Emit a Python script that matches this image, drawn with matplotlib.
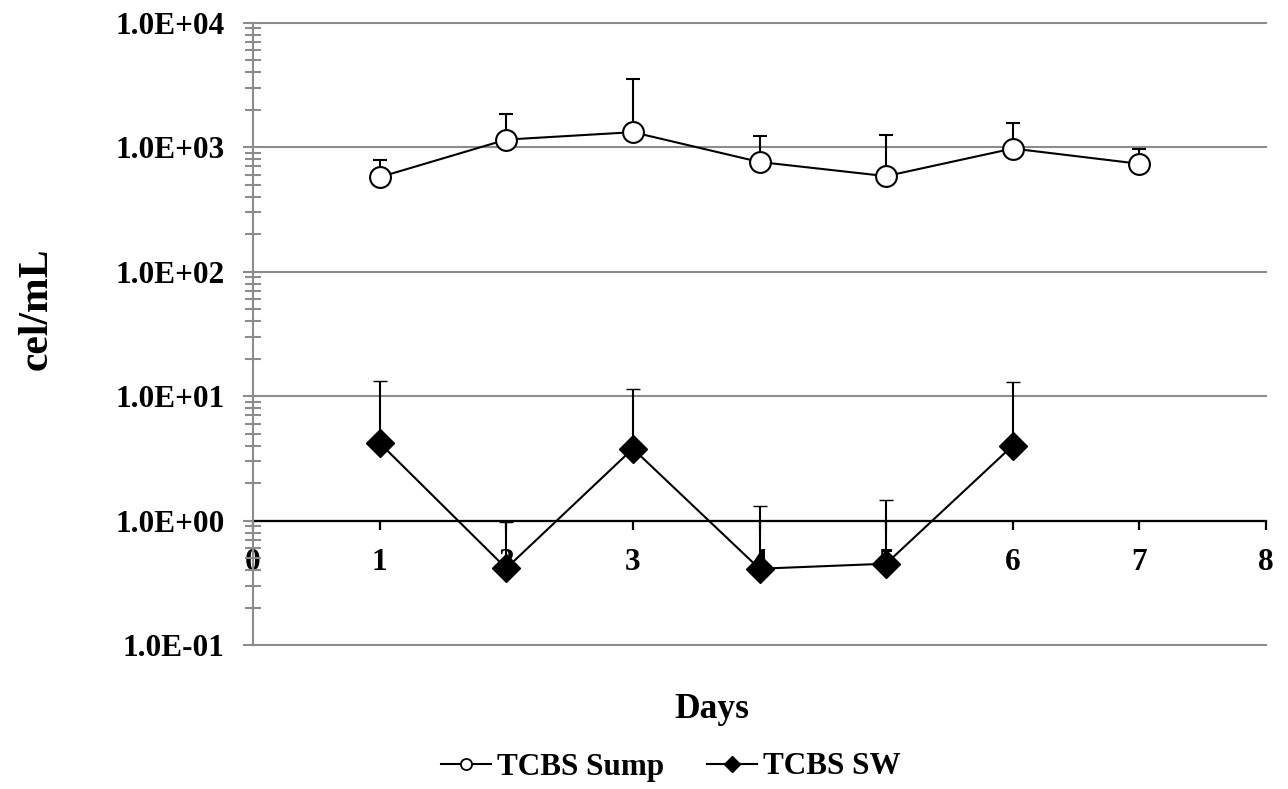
import matplotlib
matplotlib.use("Agg")
import matplotlib.pyplot as plt
from matplotlib.ticker import FixedLocator, LogLocator, NullFormatter
from matplotlib.lines import Line2D
import numpy as np

plt.rcParams['font.family'] = ['Liberation Serif', 'DejaVu Serif']
plt.rcParams['font.weight'] = 'bold'

# ---- data ----
days_sump = [1, 2, 3, 4, 5, 6, 7]
sump_mean = [574, 1150, 1320, 760, 585, 975, 735]
sump_upper = [785, 1830, 3540, 1230, 1245, 1563, 970]

days_sw = [1, 2, 3, 4, 5, 6]
sw_mean = [4.2, 0.413, 3.78, 0.41, 0.45, 4.0]
sw_upper = [13.1, 0.97, 11.4, 1.30, 1.45, 13.0]

y_ticks = [0.1, 1, 10, 100, 1000, 10000]
y_ticklabels = ["1.0E-01", "1.0E+00", "1.0E+01", "1.0E+02", "1.0E+03", "1.0E+04"]
x_ticks = [0, 1, 2, 3, 4, 5, 6, 7, 8]
x_ticklabels = ["0", "1", "2", "3", "4", "5", "6", "7", "8"]

series_labels = ["TCBS Sump", "TCBS SW"]
x_title = "Days"
y_title = "cel/mL"

GRAY = "#8c8c8c"
W, H = 1288, 789

fig = plt.figure(figsize=(W / 100, H / 100), dpi=100)
ax = fig.add_axes([253 / W, 1 - 645 / H, 1013 / W, 622.3 / H])
ax.set_yscale('log')
ax.set_xlim(x_ticks[0], x_ticks[-1])
ax.set_ylim(y_ticks[0], y_ticks[-1])

# gridlines
for yv in y_ticks:
    ax.axhline(yv, color=GRAY, lw=1.5, zorder=0.5, clip_on=False)

# spines
ax.spines['top'].set_visible(False)
ax.spines['right'].set_visible(False)
ax.spines['left'].set_color(GRAY)
ax.spines['left'].set_linewidth(1.5)
ax.spines['bottom'].set_position(('data', 1))
ax.spines['bottom'].set_color('black')
ax.spines['bottom'].set_linewidth(1.6)
ax.spines['bottom'].set_zorder(1.5)

# y ticks
ax.yaxis.set_major_locator(FixedLocator(y_ticks))
ax.set_yticklabels(y_ticklabels)
ax.yaxis.set_minor_locator(LogLocator(base=10, subs=np.arange(2, 10)))
ax.yaxis.set_minor_formatter(NullFormatter())
ax.tick_params(axis='y', which='major', direction='out', length=7.5, width=1.5,
               color=GRAY, labelsize=22.5, pad=13)
ax.tick_params(axis='y', which='minor', direction='inout', length=11, width=1.5,
               color=GRAY)

# x ticks
ax.set_xticks(x_ticks)
ax.set_xticklabels(x_ticklabels)
ax.tick_params(axis='x', which='major', direction='out', length=6.5, width=1.6,
               color='black', labelsize=22.5, pad=13.5)
ax.tick_params(axis='x', which='minor', length=0)

# series
sump_err = [np.zeros(len(sump_mean)), np.array(sump_upper) - np.array(sump_mean)]
ax.errorbar(days_sump, sump_mean, yerr=sump_err, fmt='-', marker='o', ms=15,
            mfc='white', mec='black', mew=1.5, color='black', lw=1.5,
            ecolor='black', elinewidth=1.5, capsize=4.7, capthick=1.8, zorder=3)

sw_err = [np.zeros(len(sw_mean)), np.array(sw_upper) - np.array(sw_mean)]
ax.errorbar(days_sw, sw_mean, yerr=sw_err, fmt='-', marker='D', ms=14.5,
            mfc='black', mec='black', mew=1, color='black', lw=1.5,
            ecolor='black', elinewidth=1.5, capsize=4.7, capthick=1.8, zorder=3)

# titles
fig.text(712 / W, 1 - 709 / H, x_title, ha='center', va='center',
         fontsize=25.5, fontweight='bold')
fig.text(37 / W, 1 - 309 / H, y_title, ha='center', va='center', rotation=90,
         fontsize=30, fontweight='bold')

# legend
h1 = Line2D([], [], color='black', lw=1.5, marker='o', ms=8, mfc='white',
            mec='black', mew=1.3)
h2 = Line2D([], [], color='black', lw=1.5, marker='D', ms=8, mfc='black',
            mec='black')
fig.legend([h1, h2], series_labels, loc='center',
           bbox_to_anchor=(671 / W, 1 - 767 / H), ncol=2, frameon=False,
           fontsize=22.4, handlelength=1.6, handletextpad=0.2,
           columnspacing=1.4, borderpad=0)

fig.savefig("out.png", dpi=100)
